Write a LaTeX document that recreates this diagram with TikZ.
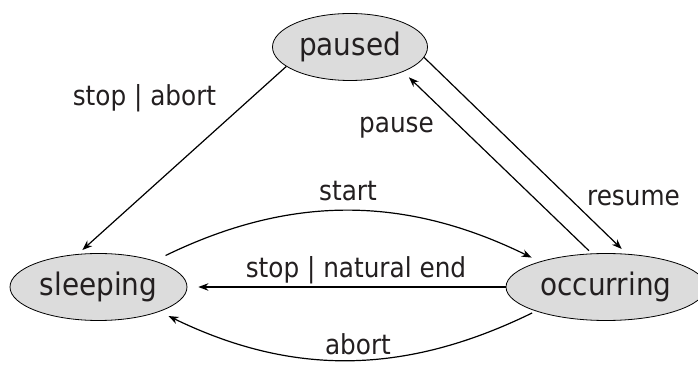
\documentclass[tikz,border=0pt]{standalone}
\usepackage{fontspec}
\setmainfont{DejaVu Sans Condensed}
\usepackage{tikz}
\usetikzlibrary{shapes.geometric,arrows.meta}
\definecolor{phasefill}{HTML}{DCDCDC}
\definecolor{phasetext}{HTML}{231F20}
\tikzset{%
  every phase/.style={
    ellipse,
    draw,
    fill=phasefill,
    text=phasetext,
    inner sep=0pt,
    line width=0.8pt,
    minimum height=67pt,
    font=\fontsize{31}{36}\selectfont
  },
  phase label/.style={
    text=phasetext,
    anchor=base,
    inner sep=0pt,
    font=\fontsize{27.5}{32}\selectfont
  },
}

\begin{document}
\begin{tikzpicture}[x=1pt, y=1pt, >={Stealth[length=10pt,width=7.5pt]}, line width=1.2pt]
\useasboundingbox (0,0) rectangle (698,385);

\foreach \m/\x/\y/\w in {paused/350/338/155, sleeping/98.5/98/177, occurring/606/98/200}
  \node [every phase, minimum width=\w pt] (\m) at (\x,\y) {\m};

\draw [->, shorten >=6pt] (paused.197) -- (sleeping.122);
\draw [->, shorten <=4pt, shorten >=8pt] (occurring.113) -- (paused.-25);
\draw [->, shorten >=7pt] (paused.-8) -- (occurring.58);
\draw [->, shorten <=12pt, shorten >=9pt] (sleeping.25) to [bend left=26] (occurring.159);
\draw [->, shorten >=11pt] (occurring.west) -- (sleeping.east);
\draw [->, shorten <=4pt, shorten >=10pt] (occurring.199) to [bend left=26] (sleeping.-22);

\node [phase label] (stop-abort) at (144.5,279) {stop | abort};
\node [phase label] (pause) at (396.5,252) {pause};
\node [phase label] (resume) at (633.5,179) {resume};
\node [phase label] (start) at (348,184) {start};
\node [phase label] (stop-end) at (356,107) {stop | natural end};
\node [phase label] (abort) at (358,30) {abort};

\end{tikzpicture}
\end{document}
